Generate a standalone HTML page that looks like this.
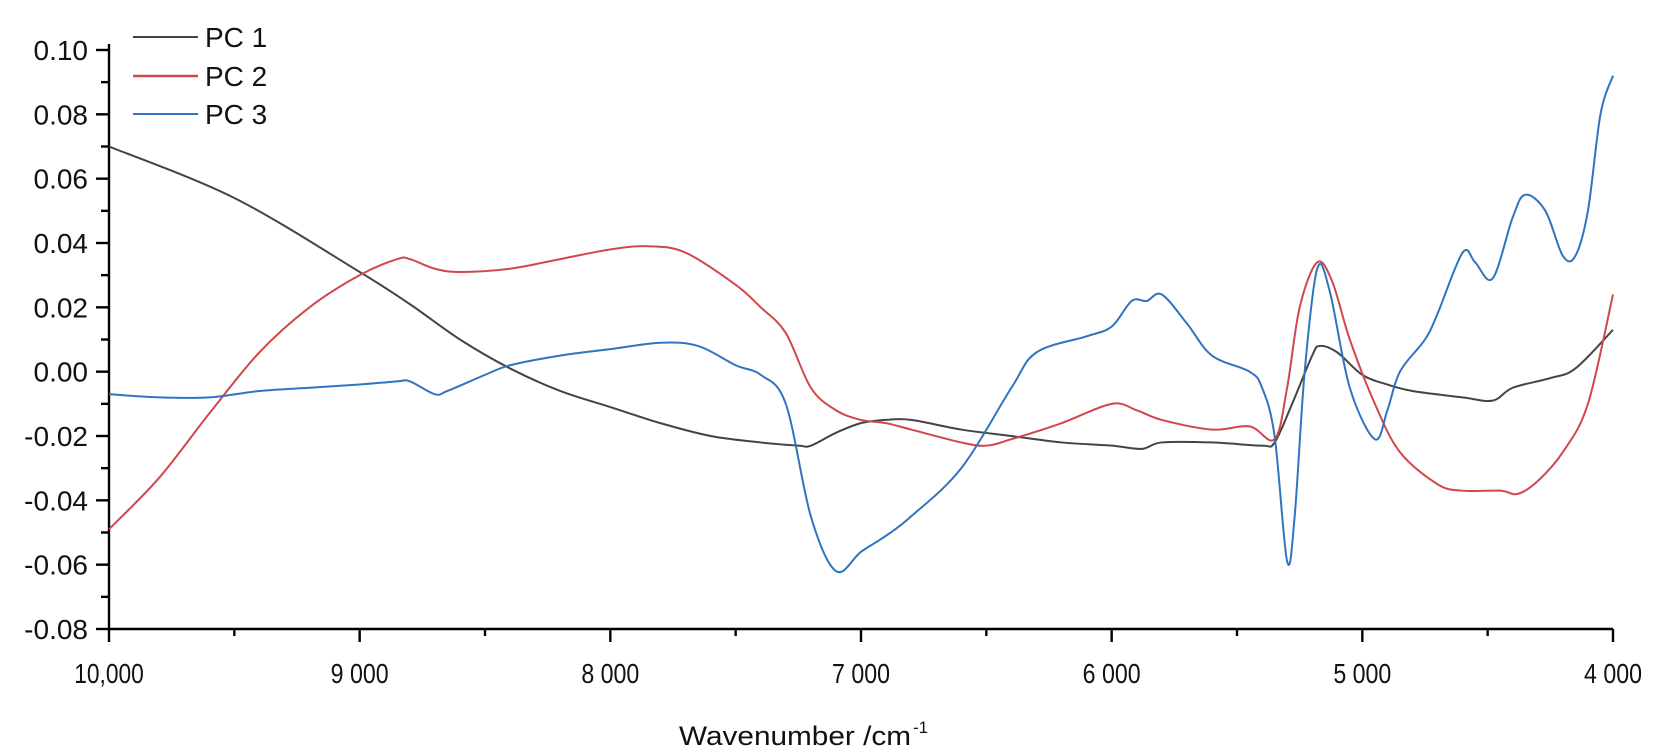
<!DOCTYPE html>
<html><head><meta charset="utf-8"><style>
html,body{margin:0;padding:0;background:#fff;}
svg{display:block;font-family:"Liberation Sans",Arial,sans-serif;}
</style></head><body>
<svg id="s" width="1661" height="755" viewBox="0 0 1661 755" xmlns="http://www.w3.org/2000/svg">
<g id="axes" stroke="#000" stroke-width="2.4" fill="none"></g>
<g id="labels" fill="#111"></g>
<path id="p1" fill="none" stroke="#444" stroke-width="2"/>
<path id="p2" fill="none" stroke="#d0474c" stroke-width="2"/>
<path id="p3" fill="none" stroke="#2f74c0" stroke-width="2"/>
<g font-size="28" fill="#111">
<line x1="133" y1="37" x2="198" y2="37" stroke="#444" stroke-width="2"/>
<text x="205" y="47">PC 1</text>
<line x1="133" y1="76" x2="198" y2="76" stroke="#d0474c" stroke-width="2.5"/>
<text x="205" y="86">PC 2</text>
<line x1="133" y1="114" x2="198" y2="114" stroke="#2f74c0" stroke-width="2"/>
<text x="205" y="124">PC 3</text>
</g>
<text x="795" y="745" font-size="27" text-anchor="middle" fill="#111" textLength="232" lengthAdjust="spacingAndGlyphs">Wavenumber /cm</text>
<text x="913" y="733" font-size="17" fill="#111">-1</text>
</svg>
<script>
var X0=109,X1=1613,Y0=50,YS=(629-50)/0.18;
function X(w){return X0+(10000-w)/6000*(X1-X0);}
function Y(v){return Y0+(0.10-v)*YS;}
var ax=document.getElementById('axes'),lb=document.getElementById('labels');
var ns='http://www.w3.org/2000/svg';
function el(p,t,a,txt){var e=document.createElementNS(ns,t);for(var k in a)e.setAttribute(k,a[k]);if(txt)e.textContent=txt;p.appendChild(e);return e;}
var yb=Y(-0.08);
el(ax,'line',{x1:X0,y1:Y(0.10)-6,x2:X0,y2:yb});
el(ax,'line',{x1:X0,y1:yb,x2:X1,y2:yb});
for(var i=0;i<=18;i++){var v=0.10-i*0.01,y=Y(v);var maj=i%2==0;
el(ax,'line',{x1:X0-(maj?13:8),y1:y,x2:X0,y2:y});
if(maj){el(lb,'text',{x:88,y:y+10,'text-anchor':'end','font-size':28},(v<-0.001?'-':'')+Math.abs(v).toFixed(2));}}
for(var i=0;i<=12;i++){var w=10000-i*500,x=X(w);var maj=i%2==0;
el(ax,'line',{x1:x,y1:yb,x2:x,y2:yb+(maj?13:7)});
if(maj){var s=w==10000?'10,000':(w/1000)+' 000';var t=el(lb,'text',{x:x,y:yb+54,'text-anchor':'middle','font-size':28},s);t.setAttribute('textLength',s.length*11.6);t.setAttribute('lengthAdjust','spacingAndGlyphs');}}
function path(d){var p=d.map(function(a){return [X(a[0]),Y(a[1])];});var s='M'+p[0][0]+','+p[0][1];
for(var i=0;i<p.length-1;i++){var p0=p[i>0?i-1:i],p1=p[i],p2=p[i+1],p3=p[i+2<p.length?i+2:i+1];
var c1x=p1[0]+(p2[0]-p0[0])/6,c1y=p1[1]+(p2[1]-p0[1])/6,c2x=p2[0]-(p3[0]-p1[0])/6,c2y=p2[1]-(p3[1]-p1[1])/6;
s+='C'+c1x+','+c1y+' '+c2x+','+c2y+' '+p2[0]+','+p2[1];}return s;}
var d1=[[10000,0.070],[9500,0.054],[9000,0.031],[8800,0.021],[8600,0.010],[8400,0.001],[8200,-0.006],[8000,-0.011],[7800,-0.016],[7600,-0.020],[7400,-0.022],[7250,-0.023],[7200,-0.023],[7100,-0.019],[7000,-0.016],[6900,-0.015],[6800,-0.015],[6600,-0.018],[6400,-0.020],[6200,-0.022],[6000,-0.023],[5880,-0.024],[5800,-0.022],[5600,-0.022],[5400,-0.023],[5350,-0.022],[5280,-0.010],[5200,0.005],[5170,0.008],[5100,0.006],[5000,-0.001],[4900,-0.004],[4800,-0.006],[4600,-0.008],[4480,-0.009],[4400,-0.005],[4250,-0.002],[4150,0.001],[4000,0.013]];
var d2=[[10000,-0.049],[9800,-0.033],[9600,-0.013],[9400,0.006],[9200,0.020],[9000,0.030],[8850,0.035],[8800,0.035],[8700,0.032],[8600,0.031],[8400,0.032],[8200,0.035],[8000,0.038],[7850,0.039],[7700,0.037],[7500,0.027],[7400,0.020],[7300,0.012],[7200,-0.005],[7100,-0.012],[7000,-0.015],[6900,-0.016],[6800,-0.018],[6600,-0.022],[6500,-0.023],[6400,-0.021],[6200,-0.016],[6000,-0.010],[5900,-0.012],[5800,-0.015],[5600,-0.018],[5450,-0.017],[5350,-0.021],[5300,-0.005],[5250,0.020],[5180,0.034],[5120,0.028],[5050,0.010],[4950,-0.010],[4850,-0.025],[4700,-0.035],[4600,-0.037],[4450,-0.037],[4380,-0.038],[4300,-0.034],[4200,-0.025],[4100,-0.010],[4000,0.024]];
var d3=[[10000,-0.007],[9800,-0.008],[9600,-0.008],[9400,-0.006],[9200,-0.005],[9000,-0.004],[8850,-0.003],[8800,-0.003],[8700,-0.007],[8650,-0.006],[8500,-0.001],[8400,0.002],[8200,0.005],[8000,0.007],[7800,0.009],[7650,0.008],[7500,0.002],[7400,-0.001],[7300,-0.010],[7200,-0.045],[7100,-0.062],[7000,-0.056],[6900,-0.051],[6800,-0.045],[6600,-0.030],[6400,-0.005],[6300,0.006],[6100,0.011],[6000,0.014],[5920,0.022],[5860,0.022],[5800,0.024],[5700,0.015],[5600,0.005],[5450,0.000],[5400,-0.005],[5350,-0.020],[5300,-0.059],[5270,-0.045],[5230,0.000],[5180,0.032],[5130,0.025],[5050,-0.005],[4950,-0.021],[4900,-0.012],[4850,0.000],[4750,0.010],[4700,0.018],[4600,0.037],[4550,0.034],[4480,0.029],[4400,0.048],[4350,0.055],[4270,0.050],[4200,0.036],[4150,0.036],[4100,0.050],[4050,0.080],[4000,0.092]];
document.getElementById('p1').setAttribute('d',path(d1));
document.getElementById('p2').setAttribute('d',path(d2));
document.getElementById('p3').setAttribute('d',path(d3));
</script>
</body></html>
